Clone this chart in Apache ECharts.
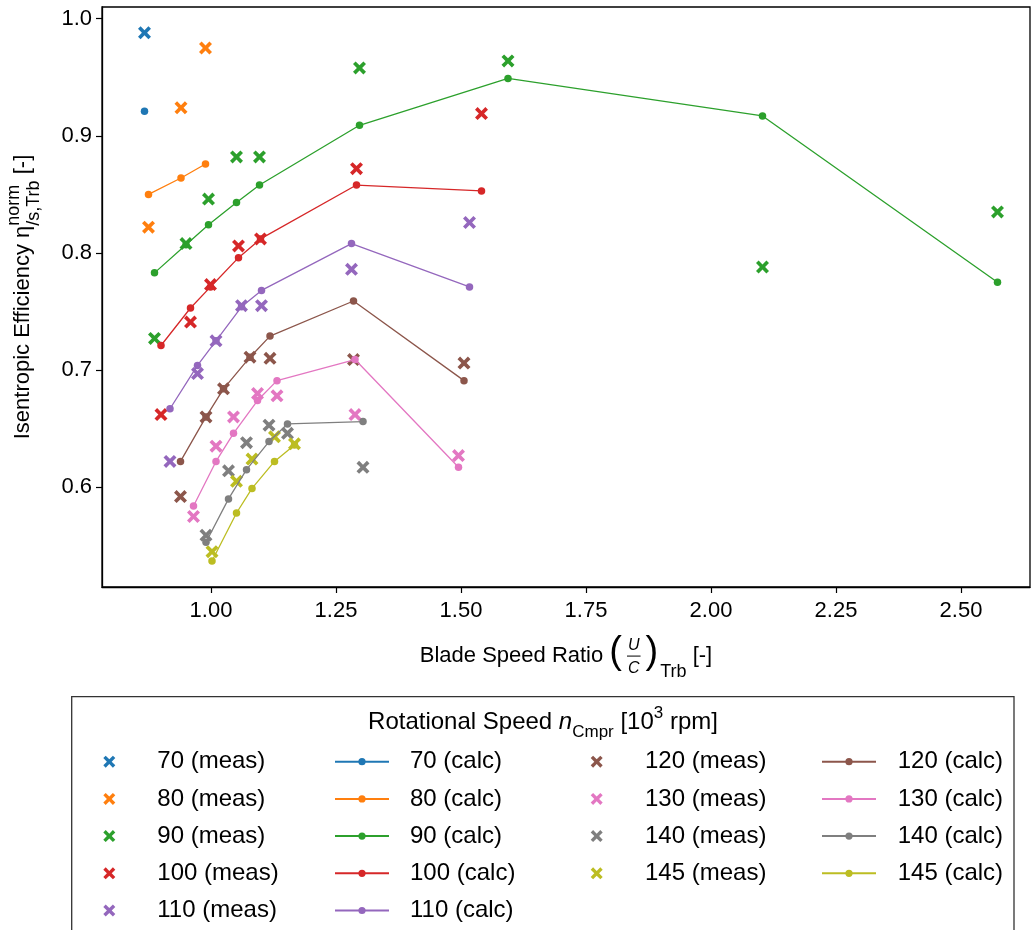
<!DOCTYPE html>
<html><head><meta charset="utf-8">
<script src="https://cdn.jsdelivr.net/npm/echarts@6/dist/echarts.min.js"></script>
<style>html,body{margin:0;padding:0;background:#fff}#c{width:1033px;height:930px}</style>
</head><body><div id="c"></div>
<script>
// ---------------- data ----------------
const speeds = ['70','80','90','100','110','120','130','140','145'];
const x70 = [0.867];
const meas70 = [0.988];
const calc70 = [0.921];
const x80 = [0.875, 0.940, 0.989];
const meas80 = [0.822, 0.924, 0.975];
const calc80 = [0.850, 0.864, 0.876];
const x90 = [0.887, 0.950, 0.995, 1.051, 1.097, 1.297, 1.594, 2.103, 2.573];
const meas90 = [0.727, 0.808, 0.846, 0.882, 0.882, 0.958, 0.964, 0.788, 0.835];
const calc90 = [0.783, 0.807, 0.824, 0.843, 0.858, 0.909, 0.949, 0.917, 0.775];
const x100 = [0.900, 0.959, 0.999, 1.055, 1.099, 1.291, 1.541];
const meas100 = [0.662, 0.741, 0.773, 0.806, 0.812, 0.872, 0.919];
const calc100 = [0.721, 0.753, 0.771, 0.796, 0.812, 0.858, 0.853];
const x110 = [0.918, 0.973, 1.010, 1.061, 1.101, 1.281, 1.517];
const meas110 = [0.622, 0.697, 0.725, 0.755, 0.755, 0.786, 0.826];
const calc110 = [0.667, 0.704, 0.725, 0.754, 0.768, 0.808, 0.771];
const x120 = [0.939, 0.990, 1.025, 1.078, 1.118, 1.285, 1.506];
const meas120 = [0.592, 0.660, 0.684, 0.711, 0.710, 0.709, 0.706];
const calc120 = [0.622, 0.660, 0.684, 0.711, 0.729, 0.759, 0.691];
const x130 = [0.965, 1.010, 1.045, 1.093, 1.132, 1.288, 1.495];
const meas130 = [0.575, 0.635, 0.660, 0.680, 0.678, 0.662, 0.627];
const calc130 = [0.584, 0.622, 0.646, 0.674, 0.691, 0.709, 0.617];
const x140 = [0.990, 1.035, 1.071, 1.116, 1.153, 1.304];
const meas140 = [0.559, 0.614, 0.638, 0.653, 0.646, 0.617];
const calc140 = [0.553, 0.590, 0.615, 0.639, 0.654, 0.656];
const x145 = [1.002, 1.051, 1.082, 1.127, 1.167];
const meas145 = [0.545, 0.605, 0.624, 0.643, 0.637];
const calc145 = [0.537, 0.578, 0.599, 0.622, 0.636];
const xTicks = [1.00, 1.25, 1.50, 1.75, 2.00, 2.25, 2.50];
const yTicks = [0.6, 0.7, 0.8, 0.9, 1.0];

const XS = [x70,x80,x90,x100,x110,x120,x130,x140,x145];
const MEAS = [meas70,meas80,meas90,meas100,meas110,meas120,meas130,meas140,meas145];
const CALC = [calc70,calc80,calc90,calc100,calc110,calc120,calc130,calc140,calc145];
const COLORS = ['#1f77b4','#ff7f0e','#2ca02c','#d62728','#9467bd','#8c564b','#e377c2','#7f7f7f','#bcbd22'];

// ---------------- styling ----------------
const FONT = '"Liberation Sans", Arial, sans-serif';
const F = 22, LF = 24;
const XPATH = 'path://M0,2L2,0L5,3L8,0L10,2L7,5L10,8L8,10L5,7L2,10L0,8L3,5Z';

const ctx = document.createElement('canvas').getContext('2d');
function tw(t, s, it){ ctx.font = (it?'italic ':'') + s + 'px ' + FONT; return ctx.measureText(t).width; }
function txt(t, x, mid, s, it, align){
  return {type:'text', x:x, y:mid, silent:true,
    style:{text:t, fontSize:s, fontFamily:FONT, fontStyle: it?'italic':'normal', fill:'#000',
      textAlign: align||'left', textVerticalAlign:'middle', verticalAlign:'middle'}};
}
function build(parts){
  let x = 0; const els = [];
  parts.forEach(p => {
    if (p.k === 't') { els.push(txt(p.t, x, p.mid, p.s, p.i)); x += tw(p.t, p.s, p.i); }
    else if (p.k === 'ss') {
      const w1 = tw(p.sup, p.s), w2 = tw(p.sub, p.s);
      els.push(txt(p.sup, x, p.supMid, p.s)); els.push(txt(p.sub, x, p.subMid, p.s));
      x += Math.max(w1, w2);
    } else if (p.k === 'frac') {
      const W = Math.max(tw(p.num, p.s, true), tw(p.den, p.s, true)) + 4;
      els.push(txt(p.num, x + W/2, p.numMid, p.s, true, 'center'));
      els.push(txt(p.den, x + W/2, p.denMid, p.s, true, 'center'));
      els.push({type:'line', silent:true, shape:{x1:x+1, y1:p.lineY, x2:x+W-1, y2:p.lineY}, style:{stroke:'#000', lineWidth:1}});
      x += W;
    } else if (p.k === 'gap') { x += p.w; }
  });
  return {els, width:x};
}
const SUB = Math.round(0.8*F);

// x-axis title
const xl = build([
  {k:'t', t:'Blade Speed Ratio ', s:F, mid:-0.35*F},
  {k:'t', t:'(', s:38, mid:-0.5*F},
  {k:'gap', w:4},
  {k:'frac', num:'U', den:'C', s:Math.round(0.72*F), numMid:-0.82*F, denMid:0.2*F, lineY:-0.36*F},
  {k:'gap', w:4},
  {k:'t', t:')', s:38, mid:-0.5*F},
  {k:'gap', w:2},
  {k:'t', t:'Trb', s:SUB, mid:0.38*F},
  {k:'t', t:' [-]', s:F, mid:-0.35*F}
]);
// y-axis title
const yl = build([
  {k:'t', t:'Isentropic Efficiency ', s:F, mid:-0.35*F},
  {k:'t', t:'η', s:F, mid:-0.35*F},
  {k:'ss', sup:'norm', sub:'/s,Trb', s:SUB, supMid:-0.75*F, subMid:0.12*F},
  {k:'t', t:' [-]', s:F, mid:-0.35*F}
]);
// legend title
const lt = build([
  {k:'t', t:'Rotational Speed ', s:LF, mid:-0.35*LF},
  {k:'t', t:'n', s:LF, i:true, mid:-0.35*LF},
  {k:'t', t:'Cmpr', s:Math.round(0.7*LF), mid:0.05*LF},
  {k:'t', t:' [10', s:LF, mid:-0.35*LF},
  {k:'t', t:'3', s:Math.round(0.7*LF), mid:-0.72*LF},
  {k:'t', t:' rpm]', s:LF, mid:-0.35*LF}
]);

const graphic = [
  {type:'group', x:566 - xl.width/2, y:664, children:xl.els},
  {type:'group', x:31, y:297 + yl.width/2, rotation:Math.PI/2, children:yl.els},
  {type:'group', x:543 - lt.width/2, y:731, children:lt.els},
  {type:'rect', silent:true, shape:{x:71.7, y:696.7, width:942.3, height:300}, style:{fill:'none', stroke:'#333', lineWidth:1.3}}
];

// ---------------- series ----------------
const series = [];
speeds.forEach((s, i) => {
  series.push({
    name: s + ' (meas)', type:'scatter', symbol:XPATH, symbolSize:13,
    itemStyle:{color:COLORS[i], opacity:1},
    data: XS[i].map((x, j) => [x, MEAS[i][j]])
  });
  series.push({
    name: s + ' (calc)', type:'line', symbol:'circle', symbolSize:7.5, showSymbol:true, showAllSymbol:true,
    lineStyle:{color:COLORS[i], width:1.3}, itemStyle:{color:COLORS[i], opacity:1},
    data: XS[i].map((x, j) => [x, CALC[i][j]])
  });
});

function mkLegend(names, left, top, isLine, spacer){
  return {show:true, orient:'vertical', left:left, top:top, padding:0,
    itemWidth: isLine ? 54 : 12, itemHeight: isLine ? 9 : 12, itemGap: 11.2,
    selectedMode:false, data:names,
    formatter: n => '{g| }' + n,
    textStyle:{fontSize:LF, fontFamily:FONT, color:'#000', lineHeight:26,
      rich:{g:{width:spacer, fontSize:LF, lineHeight:26}}}};
}
const m1 = speeds.slice(0,5), m2 = speeds.slice(5);
const legend = [
  mkLegend(m1.map(s => s + ' (meas)'), 103.3, 748.7, false, 37),
  mkLegend(m1.map(s => s + ' (calc)'), 334, 748.7, true, 16),
  mkLegend(m2.map(s => s + ' (meas)'), 590.7, 748.7, false, 37.3),
  mkLegend(m2.map(s => s + ' (calc)'), 821, 748.7, true, 16.7)
];

const axisCommon = {
  type:'value', splitLine:{show:false},
  axisLine:{show:true, onZero:false, lineStyle:{color:'#000', width:1.3}},
};
const option = {
  animation:false,
  grid:{left:102, top:7, width:928, height:580, show:true, borderColor:'#000', borderWidth:1.3},
  xAxis: Object.assign({}, axisCommon, {
    min:0.782, max:2.638,
    axisTick:{show:true, length:6, lineStyle:{color:'#000', width:1.2}, customValues:xTicks},
    axisLabel:{customValues:xTicks, formatter:v => v.toFixed(2), color:'#000', fontSize:F, fontFamily:FONT, margin:13}
  }),
  yAxis: Object.assign({}, axisCommon, {
    min:0.5148, max:1.010,
    axisTick:{show:true, length:6, lineStyle:{color:'#000', width:1.2}, customValues:yTicks},
    axisLabel:{customValues:yTicks, formatter:v => v.toFixed(1), color:'#000', fontSize:F, fontFamily:FONT, margin:10}
  }),
  legend: legend,
  graphic: graphic,
  series: series
};
const chart = echarts.init(document.getElementById('c'), null, {renderer:'canvas'});
chart.setOption(option);
</script>
</body></html>
